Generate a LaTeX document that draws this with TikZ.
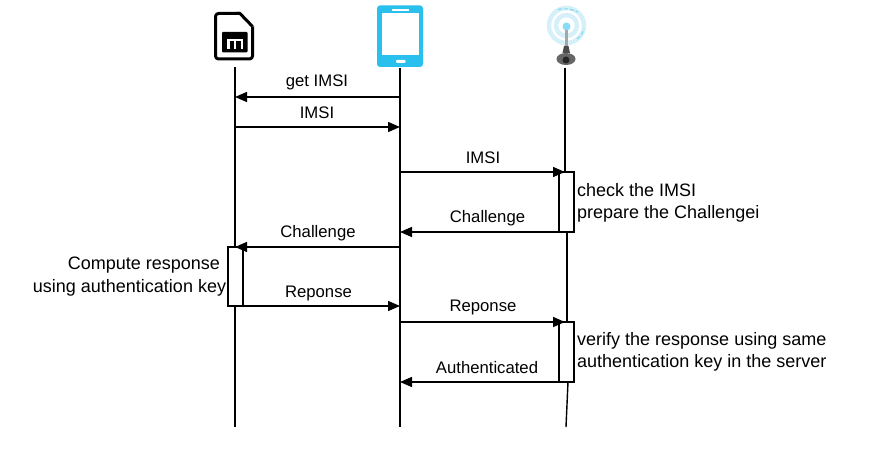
\documentclass[tikz,border=0pt]{standalone}
\usepackage{fontspec}
\setmainfont{Liberation Sans}
\usetikzlibrary{arrows.meta}
\definecolor{phoneblue}{HTML}{29C0EE}
\definecolor{ringblue}{HTML}{D6F0FA}
\tikzset{
  lane/.style={draw=black,line width=1.4pt},
  msg/.style={draw=black,line width=1.4pt,-{Triangle[length=12pt,width=10pt]}},
  actbox/.style={draw=black,fill=white,line width=1.4pt,minimum width=15pt,inner sep=0pt,outer sep=0pt},
  lbl/.style={font=\fontsize{16.7}{19}\selectfont,text=black,inner sep=0pt,anchor=center},
  note/.style={font=\fontsize{18}{20}\selectfont,text=black,inner sep=0pt,anchor=west},
  icon/.style={inner sep=0pt,outer sep=0pt,minimum width=40pt}
}
\begin{document}
\begin{tikzpicture}[x=1pt,y=-1pt]
\useasboundingbox (0,0) rectangle (871,454);
\fill[white] (0,0) rectangle (871,454);
% anchors for icons
\node[icon,minimum height=56pt] (sim) at (235,39.5) {};
\node[icon,minimum height=62pt] (phone) at (400,37) {};
\node[icon,minimum height=62pt] (tower) at (565,37) {};
% life lines
\coordinate (simend) at (235,427);
\coordinate (phoneend) at (400,427);
\coordinate (towerA) at (565,172);
\coordinate (towerB) at (567,232);
\coordinate (towerC) at (567,322);
\coordinate (towerD) at (568,382);
\coordinate (towerend) at (566,427);
\draw[lane] (sim.south) -- (simend);
\draw[lane] (phone.south) -- (phoneend);
\draw[lane] (tower.south) -- (towerA);
\draw[lane] (towerB) -- (towerC);
\draw[lane] (towerD) -- (towerend);
% activations
\node[actbox,minimum height=60pt] (act1) at (566.5,202) {};
\node[actbox,minimum height=59pt] (act2) at (235.3,276.5) {};
\node[actbox,minimum height=60pt] (act3) at (566.5,352) {};
% message end points
\coordinate (p97) at (400,97); \coordinate (s97) at (235,97);
\coordinate (s127) at (235,127); \coordinate (p127) at (400,127);
\coordinate (p172) at (400,172); \coordinate (t172) at (565,172);
\coordinate (a232) at (559,232); \coordinate (p232) at (400,232);
\coordinate (p247) at (400,247); \coordinate (s247) at (235,247);
\coordinate (a306) at (242.8,306); \coordinate (p306) at (400,306);
\coordinate (p322) at (400,322); \coordinate (t322) at (565,322);
\coordinate (a382) at (559,382); \coordinate (p382) at (400,382);
% messages
\draw[msg] (p97) -- (s97);
\draw[msg] (s127) -- (p127);
\draw[msg] (p172) -- (t172);
\draw[msg] (a232) -- (p232);
\draw[msg] (p247) -- (s247);
\draw[msg] (a306) -- (p306);
\draw[msg] (p322) -- (t322);
\draw[msg] (a382) -- (p382);
% labels
\node[lbl] (l1) at (317,82) {get IMSI};
\node[lbl] (l2) at (317,113) {IMSI};
\node[lbl] (l3) at (483,157.5) {IMSI};
\node[lbl] (l4) at (487.5,218.5) {Challenge};
\node[lbl] (l5) at (318,233.5) {Challenge};
\node[lbl] (l6) at (318.5,293.5) {Reponse};
\node[lbl] (l7) at (483,307.5) {Reponse};
\node[lbl] (l8) at (487,367.5) {Authenticated};
\node[note] (n1) at (577,190.5) {check the IMSI};
\node[note] (n2) at (577,213.5) {prepare the Challengei};
\node[note,anchor=center] (n3) at (144,265.5) {Compute response};
\node[note,anchor=center] (n4) at (129.5,287.5) {using authentication key};
\node[note] (n5) at (577,340.5) {verify the response using same};
\node[note] (n6) at (577,362.5) {authentication key in the server};
% SIM icon
\draw[black,line width=3pt,line join=round,rounded corners=3pt] (240,13.5) -- (215.5,13.5) -- (215.5,59) -- (252.5,59) -- (252.5,26.5);
\draw[black,line width=3pt,line join=round] (252.5,26.5) -- (240,13.5) -- (236,13.5);
\fill[black,rounded corners=1pt] (222,32) rectangle (247.5,52.5);
\draw[white,line width=2.4pt] (228.3,49) -- (228.3,40) -- (241.7,40) -- (241.7,49) (235,40) -- (235,49);
% phone icon
\fill[phoneblue,rounded corners=3pt] (377,5.5) rectangle (423,67);
\fill[white] (382,13) rectangle (418.5,55.5);
\fill[white] (392,9) rectangle (409,11);
\fill[white,rounded corners=1pt] (396,60) rectangle (405.5,63);
% tower icon
\draw[ringblue,line width=4.5pt] (566.5,25.5) circle[radius=17.5pt];
\draw[ringblue,line width=4.5pt] (566.5,25.5) circle[radius=10.5pt];
\draw[phoneblue!60,line width=1.1pt,dash pattern=on 4pt off 2pt] (558,9.5) to[bend left=18] (578,12);
\draw[phoneblue!60,line width=1.1pt,dash pattern=on 4pt off 2pt] (577,39) to[bend right=18] (584,29);
\fill[phoneblue!55] (566.5,26.5) circle[radius=4pt];
\fill[gray!70] (564.5,30) rectangle (568,46);
\fill[black!70] (564,46) -- (568.5,46) -- (570,53) -- (562.5,53) -- cycle;
\fill[black!60] (566,59) ellipse[x radius=9.5pt,y radius=6pt];
\fill[black!85] (566,60) circle[radius=3.5pt];
\end{tikzpicture}
\end{document}
